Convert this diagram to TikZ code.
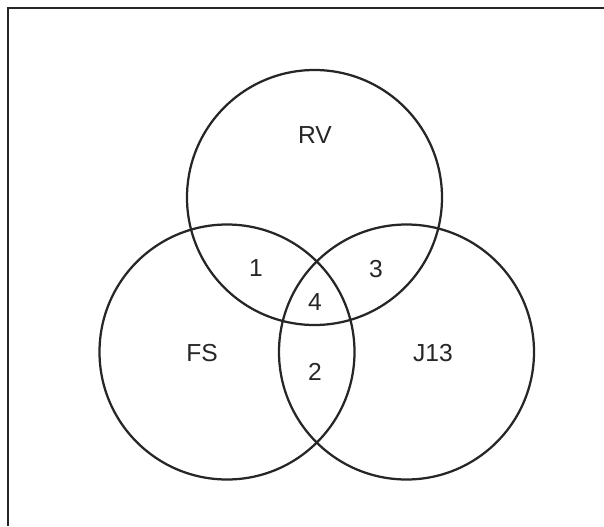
\documentclass[tikz,border=0pt]{standalone}
\usepackage{fontspec}
\setmainfont{Liberation Sans}
\usetikzlibrary{positioning}

\tikzset{
  setline/.style={line width=1.6pt, black!85},
  setlabel/.style={font=\fontsize{17.5}{20}\selectfont, text=black!85, inner sep=0pt}
}

\begin{document}
\begin{tikzpicture}[x=0.025cm, y=-0.025cm]
\useasboundingbox (0,0) rectangle (604,526);

% frame
\draw[setline] (604,8) -- (8,8) -- (8,526);

% circles
\draw[setline] (314.5,197.5) circle (127.5);
\draw[setline] (227,352) circle (127.5);
\draw[setline] (406.5,352) circle (127.5);

% set names
\node[setlabel] (rv) at (315,135) {RV};
\node[setlabel] (fs) at (202,353) {FS};
\node[setlabel] (jt) at (433,353) {J13};

% overlaps
\node[setlabel] (one) at (256,268) {1};
\node[setlabel] (three) at (376,269) {3};
\node[setlabel] (four) at (315,302) {4};
\node[setlabel] (two) at (315,372) {2};

\end{tikzpicture}
\end{document}
